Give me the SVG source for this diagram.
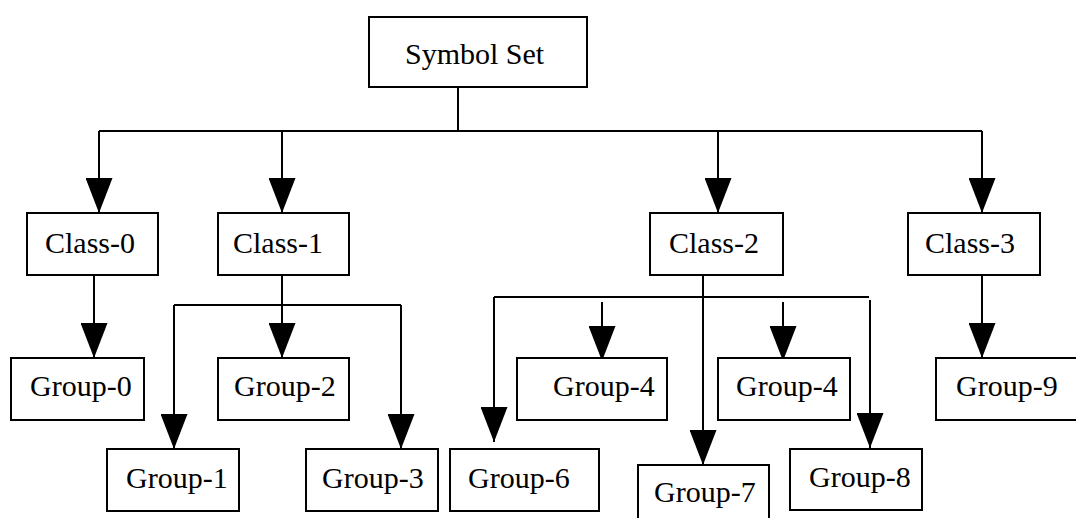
<svg xmlns="http://www.w3.org/2000/svg" width="1076" height="518" viewBox="0 0 1076 518">
<style>
.box{fill:#fff;stroke:#000;stroke-width:2}
.lbl{font-family:"Liberation Serif","Times New Roman",serif;font-size:30px;fill:#000}
.c{fill:none;stroke:#000;stroke-width:2}
.a{marker-end:url(#ah)}
</style>
<defs>
<marker id="ah" viewBox="0 0 35 27" refX="35" refY="13.5" markerWidth="35" markerHeight="27" orient="auto" markerUnits="userSpaceOnUse">
<path d="M0,0 L35,13.5 L0,27 Z" fill="#000"/>
</marker>
</defs>
<rect width="1076" height="518" fill="#fff"/>
<g id="connectors">
<path class="c" d="M458,87 V131 M99,131 H982"/>
<path class="c a" d="M99,131 V213"/>
<path class="c a" d="M282,131 V213"/>
<path class="c a" d="M718,131 V213"/>
<path class="c a" d="M982,131 V213"/>
<path class="c a" d="M94,275 V358"/>
<path class="c a" d="M282,275 V358"/>
<path class="c" d="M174,305 H401"/>
<path class="c a" d="M174,305 V449"/>
<path class="c a" d="M401,305 V449"/>
<path class="c a" d="M703,275 V465"/>
<path class="c" d="M494,297 H869"/>
<path class="c a" d="M494,297 V442"/>
<path class="c a" d="M602,302 V361"/>
<path class="c a" d="M783,302 V361"/>
<path class="c a" d="M870,300 V448"/>
<path class="c a" d="M982,275 V358"/>
</g>
<g id="symbol-set"><rect class="box" x="369" y="17" width="218" height="70"/><text class="lbl" x="405" y="64">Symbol Set</text></g>
<g id="class-0"><rect class="box" x="27" y="213" width="131" height="62"/><text class="lbl" x="45" y="253">Class-0</text></g>
<g id="class-1"><rect class="box" x="218" y="213" width="131" height="62"/><text class="lbl" x="233" y="253">Class-1</text></g>
<g id="class-2"><rect class="box" x="650" y="213" width="133" height="62"/><text class="lbl" x="669" y="253">Class-2</text></g>
<g id="class-3"><rect class="box" x="908" y="213" width="132" height="62"/><text class="lbl" x="925" y="253">Class-3</text></g>
<g id="group-0"><rect class="box" x="11" y="358" width="133" height="62"/><text class="lbl" x="30" y="396">Group-0</text></g>
<g id="group-2"><rect class="box" x="218" y="358" width="131" height="62"/><text class="lbl" x="234" y="396">Group-2</text></g>
<g id="group-1"><rect class="box" x="107" y="449" width="132" height="62"/><text class="lbl" x="126" y="488">Group-1</text></g>
<g id="group-3"><rect class="box" x="306" y="449" width="132" height="62"/><text class="lbl" x="322" y="488">Group-3</text></g>
<g id="group-6"><rect class="box" x="450" y="449" width="149" height="62"/><text class="lbl" x="468" y="488">Group-6</text></g>
<g id="group-4a"><rect class="box" x="517" y="358" width="150" height="62"/><text class="lbl" x="553" y="396">Group-4</text></g>
<g id="group-4b"><rect class="box" x="718" y="358" width="132" height="62"/><text class="lbl" x="736" y="396">Group-4</text></g>
<g id="group-7"><rect class="box" x="638" y="465" width="131" height="70"/><text class="lbl" x="654" y="502">Group-7</text></g>
<g id="group-8"><rect class="box" x="790" y="449" width="132" height="61"/><text class="lbl" x="809" y="487">Group-8</text></g>
<g id="group-9"><rect class="box" x="936" y="358" width="160" height="62"/><text class="lbl" x="956" y="396">Group-9</text></g>
</svg>
